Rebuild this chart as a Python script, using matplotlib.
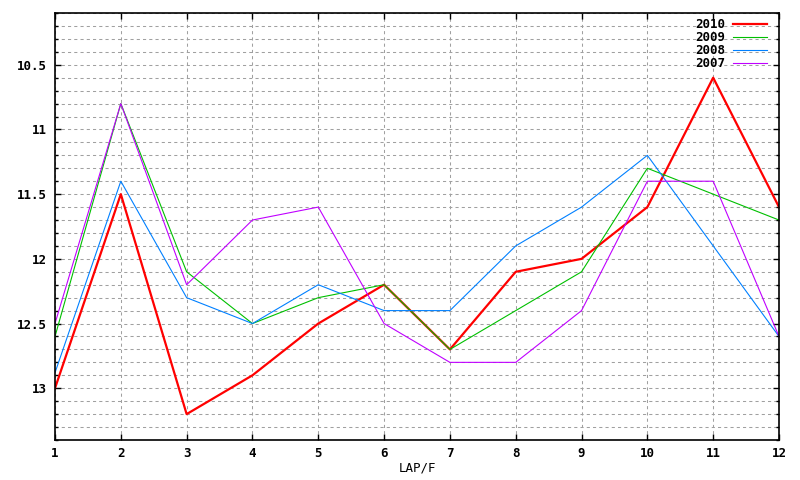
import matplotlib
matplotlib.use("Agg")
import matplotlib.pyplot as plt
from matplotlib.ticker import MultipleLocator, FixedLocator

# data
laps = [1, 2, 3, 4, 5, 6, 7, 8, 9, 10, 11, 12]
y2010 = [13.0, 11.5, 13.2, 12.9, 12.5, 12.2, 12.7, 12.1, 12.0, 11.6, 10.6, 11.6]
y2009 = [12.6, 10.8, 12.1, 12.5, 12.3, 12.2, 12.7, 12.4, 12.1, 11.3, 11.5, 11.7]
y2008 = [12.88, 11.4, 12.3, 12.5, 12.2, 12.4, 12.4, 11.9, 11.6, 11.2, 11.9, 12.6]
y2007 = [12.5, 10.8, 12.2, 11.7, 11.6, 12.5, 12.8, 12.8, 12.4, 11.4, 11.4, 12.6]
yticks = [10.5, 11, 11.5, 12, 12.5, 13]
ytick_labels = ["10.5", "11", "11.5", "12", "12.5", "13"]

plt.rcParams['font.family'] = ['DejaVu Sans Mono']
plt.rcParams['font.weight'] = 'bold'
plt.rcParams['font.size'] = 9

fig = plt.figure(figsize=(8, 4.8), dpi=100)
ax = fig.add_axes([55/800, 40/480, 724/800, 427/480])

# grid
gcol = '#a0a0a0'
ax.set_xticks(laps)
ax.yaxis.set_major_locator(FixedLocator(yticks))
ax.yaxis.set_minor_locator(MultipleLocator(0.1))
ax.set_yticklabels(ytick_labels)
ax.grid(True, which='major', axis='x', color=gcol, linestyle=(0, (3, 3)), linewidth=0.75)
ax.grid(True, which='both', axis='y', color=gcol, linestyle=(0, (3, 3)), linewidth=0.75)
ax.set_axisbelow(True)

ax.plot(laps, y2010, color='#ff0000', linewidth=1.6, label='2010')
ax.plot(laps, y2009, color='#00c000', linewidth=0.8, label='2009')
ax.plot(laps, y2008, color='#0080ff', linewidth=0.8, label='2008')
ax.plot(laps, y2007, color='#c000ff', linewidth=0.8, label='2007')

ax.set_xlim(1, 12)
ax.set_ylim(13.4, 10.1)

ax.tick_params(which='both', direction='in', top=True, right=True, width=1)
ax.tick_params(which='major', length=4.5)
ax.tick_params(which='minor', length=2.2)
ax.tick_params(axis='x', pad=5)
ax.tick_params(axis='y', pad=6)
for s in ax.spines.values():
    s.set_linewidth(1.2)

ax.set_xlabel('LAP/F', labelpad=1)

ax.legend(loc='upper right', bbox_to_anchor=(0.983, 0.988), markerfirst=False,
          frameon=False, handlelength=2.7, handletextpad=0.6, labelspacing=0,
          borderaxespad=0, borderpad=0, fontsize=9)

fig.savefig('out.png', dpi=100)
